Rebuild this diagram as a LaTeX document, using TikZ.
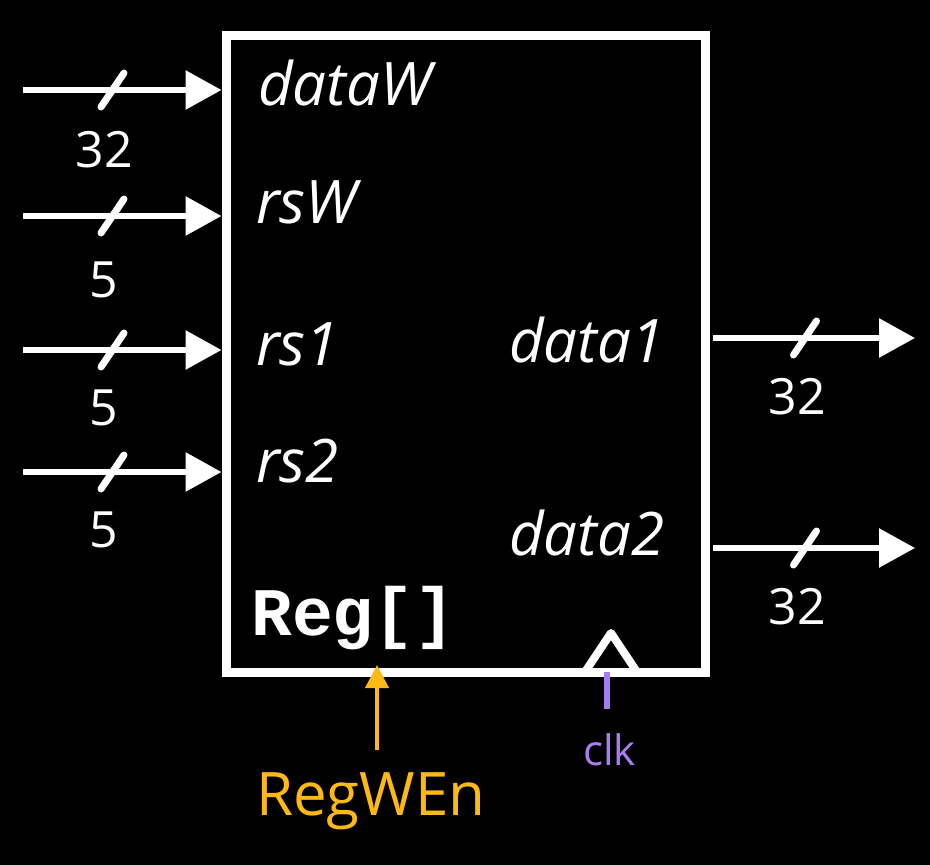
\documentclass[tikz,border=0pt]{standalone}
\usepackage{fontspec}
\setmainfont{Open Sans}
\setmonofont{Liberation Mono}
\usetikzlibrary{arrows.meta,calc}
\definecolor{regorange}{RGB}{255,185,20}
\definecolor{clkpurple}{RGB}{167,125,240}
\begin{document}
\begin{tikzpicture}[x=1pt,y=-1pt,
  bus/.style={white,line width=6pt,-{Triangle[length=36pt,width=38pt]}},
  slash/.style={white,line width=7pt,line cap=round},
  buswidth/.style={white,font=\fontsize{50}{60}\selectfont,inner sep=0pt},
  port/.style={white,font=\fontsize{60}{70}\selectfont\itshape,anchor=base west,inner sep=0pt},
]
\fill[black] (0,0) rectangle (930,865);
\useasboundingbox (0,0) rectangle (930,865);
% register box
\node[draw=white,line width=9pt,minimum width=479pt,minimum height=637pt,inner sep=0pt] (reg) at (465.5,353.5) {};
% inputs
\coordinate (i1) at (23,90);
\coordinate (i2) at (23,216);
\coordinate (i3) at (23,350);
\coordinate (i4) at (23,472);
\foreach \c in {i1,i2,i3,i4}{
  \draw[bus] (\c) -- (\c -| reg.west);
  \draw[slash] ($(\c)+(78,17)$) -- ++(23,-34);
}
\node[buswidth] (w1) at (104,150) {32};
\node[buswidth] (w2) at (104,280) {5};
\node[buswidth] (w3) at (104,408) {5};
\node[buswidth] (w4) at (104,530) {5};
% outputs
\coordinate (o1) at (915,338);
\coordinate (o2) at (915,548);
\foreach \c in {o1,o2}{
  \draw[bus,shorten <=3pt] (reg.east |- \c) -- (\c);
  \draw[slash] ($(\c)+(-121.5,17)$) -- ++(23,-34);
}
\node[buswidth] (w5) at (797,397) {32};
\node[buswidth] (w6) at (797,607) {32};
% port names
\node[port] (pdw) at (258,105) {dataW};
\node[port] (prw) at (256,223) {rsW};
\node[port] (pr1) at (256,365) {rs1};
\node[port] (pr2) at (256,482) {rs2};
\node[port] (pd1) at (509,362) {data1};
\node[port] (pd2) at (509,555) {data2};
\node[white,anchor=base west,inner sep=0pt,font=\ttfamily\bfseries\fontsize{68}{72}\selectfont] (regname) at (251,635) {Reg[]};
% write enable
\node[regorange,anchor=base west,inner sep=0pt,font=\fontsize{60}{70}\selectfont] (en) at (256,815) {RegWEn};
\coordinate (enfrom) at (377,750);
\coordinate (ento) at (377,665);
\draw[regorange,line width=4pt,-{Triangle[length=23pt,width=23pt]}] (enfrom) -- (ento);
% clock
\draw[white,line width=8pt,line join=round] (585,672) -- (611,633) -- (637,672);
\coordinate (clkfrom) at (607,709);
\coordinate (clkto) at (607,672);
\draw[clkpurple,line width=6pt] (clkto) -- (clkfrom);
\node[clkpurple,anchor=base west,inner sep=0pt,font=\fontsize{42}{50}\selectfont] (clk) at (583,765) {clk};
\end{tikzpicture}
\end{document}
